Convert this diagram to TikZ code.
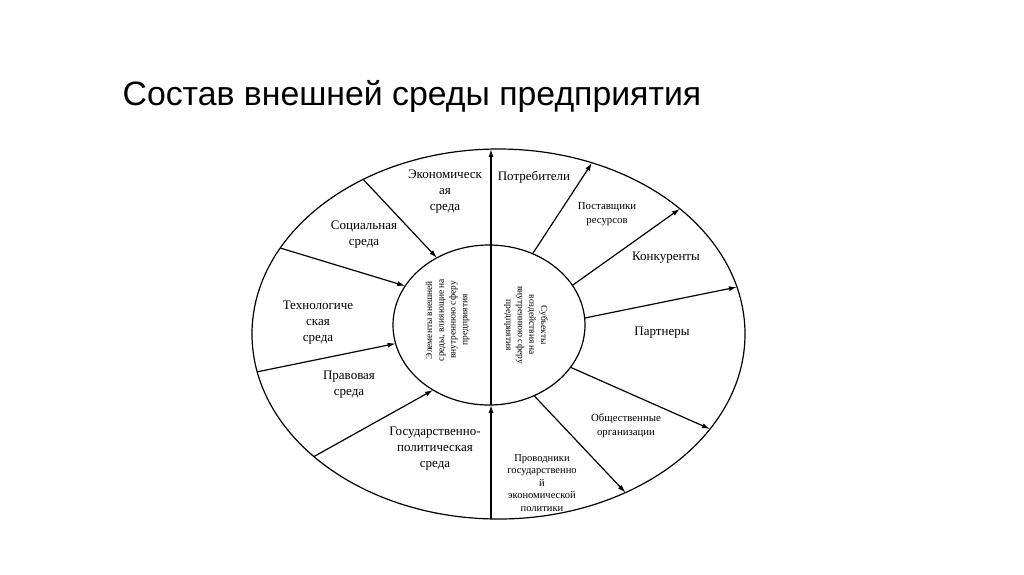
\documentclass[tikz,border=0pt]{standalone}
\usepackage{fontspec}
\setmainfont{Liberation Serif}
\newfontfamily\titlefont{Liberation Sans}
\usetikzlibrary{arrows.meta,calc}
\begin{document}
\begin{tikzpicture}[x=1pt,y=-1pt,line width=1.2pt,
  arr/.style={-{Latex[length=8pt,width=5pt]}},
  lab/.style={align=center,inner sep=0pt,font=\fontsize{13}{16}\selectfont},
  labs/.style={align=center,inner sep=0pt,font=\fontsize{10.8}{14}\selectfont},
  labt/.style={align=center,inner sep=0pt,font=\fontsize{10.5}{12.5}\selectfont},
  labi/.style={align=center,inner sep=0pt,font=\fontsize{9.4}{11.7}\selectfont}]
\useasboundingbox (0,0) rectangle (1024,574);
\node[anchor=base west,inner sep=0pt,font=\titlefont\fontsize{33.8}{40}\selectfont] (title) at (122,105) {Состав внешней среды предприятия};
\coordinate (O) at (498.5,334);
\coordinate (I) at (489,325);
\draw (O) ellipse [x radius=246.5pt, y radius=185pt];
\draw (I) ellipse [x radius=96pt, y radius=80pt];
% vertical axis
\coordinate (ot) at (491,149.1);
\coordinate (it) at (491,245);
\coordinate (ib) at (491,405);
\coordinate (ob) at (491,519);
\draw[arr] (it) -- (ot);
\draw (ib) -- (it);
\draw[arr] (ob) -- (ib);
% left connectors (outer -> inner)
\foreach \n/\a/\b in {1/236.7/237.1, 2/207.7/209.2, 3/168.2/166.6, 4/138.5/125.6}{
  \coordinate (lo\n) at ($(O)+(\a:246.5 and 185)$);
  \coordinate (li\n) at ($(I)+(\b:96 and 80)$);
  \draw[arr] (lo\n) -- (li\n);
}
% right connectors (inner -> outer)
\foreach \n/\a/\b in {5/297/292.3, 6/330.3/317.4, 7/355/345.3, 8/31.9/30.9, 9/62/59}{
  \coordinate (ri\n) at ($(I)+(\a:96 and 80)$);
  \coordinate (ro\n) at ($(O)+(\b:246.5 and 185)$);
  \draw[arr] (ri\n) -- (ro\n);
}
% labels left
\node[lab] (econ) at (445,192) {Экономическ\\ая\\среда};
\node[lab] (soc) at (364,235) {Социальная\\среда};
\node[lab] (tech) at (318,323) {Технологиче\\ская\\среда};
\node[lab] (prav) at (349,385) {Правовая\\среда};
\node[lab] (gos) at (435,449) {Государственно-\\политическая\\среда};
% labels right
\node[lab] (potr) at (534,177) {Потребители};
\node[labs] (post) at (607,214) {Поставщики\\ресурсов};
\node[lab] (konk) at (666,258) {Конкуренты};
\node[lab] (part) at (662,333) {Партнеры};
\node[labs] (obsh) at (626,426) {Общественные\\организации};
\node[labt] (prov) at (542,483) {Проводники\\государственно\\й\\экономической\\политики};
% inner labels
\node[labi,rotate=90] (elem) at (447.5,320) {Элементы внешней\\среды, влияющие на\\внутреннюю сферу\\предприятия};
\node[labi,rotate=-90] (subj) at (526,325) {Субъекты\\воздействия на\\внутреннюю сферу\\предприятия};
\end{tikzpicture}
\end{document}
